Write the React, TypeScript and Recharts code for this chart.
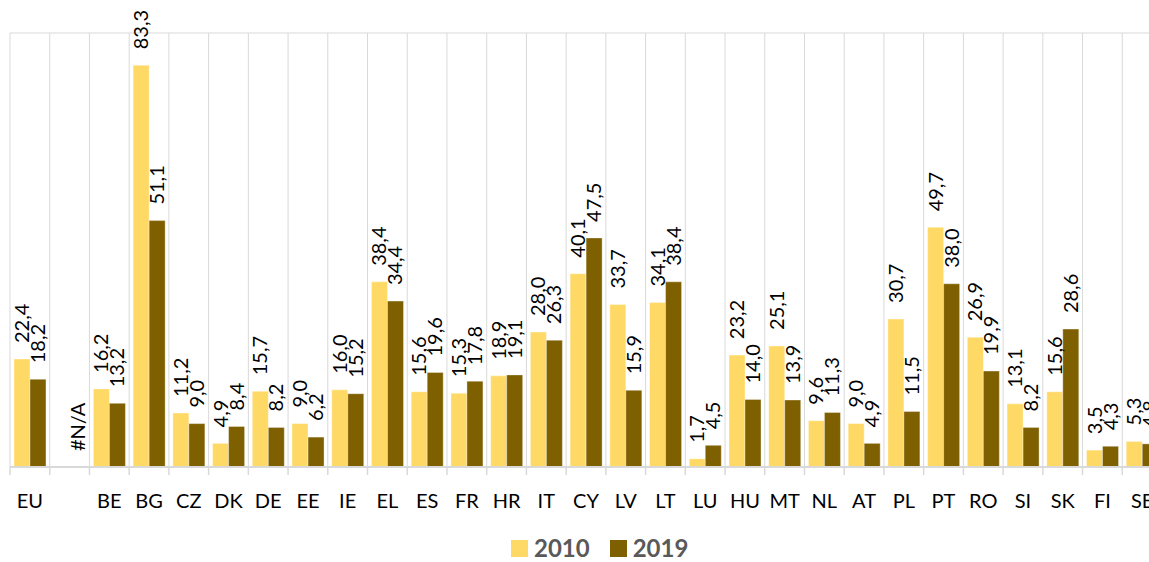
import { BarChart, Bar, XAxis, YAxis, CartesianGrid, Legend, LabelList } from 'recharts'

const CATEGORIES = ['EU', '', 'BE', 'BG', 'CZ', 'DK', 'DE', 'EE', 'IE', 'EL', 'ES', 'FR', 'HR', 'IT', 'CY', 'LV', 'LT', 'LU', 'HU', 'MT', 'NL', 'AT', 'PL', 'PT', 'RO', 'SI', 'SK', 'FI', 'SE']
const VALUES_2010 = [22.4, null, 16.2, 83.3, 11.2, 4.9, 15.7, 9.0, 16.0, 38.4, 15.6, 15.3, 18.9, 28.0, 40.1, 33.7, 34.1, 1.7, 23.2, 25.1, 9.6, 9.0, 30.7, 49.7, 26.9, 13.1, 15.6, 3.5, 5.3]
const VALUES_2019 = [18.2, null, 13.2, 51.1, 9.0, 8.4, 8.2, 6.2, 15.2, 34.4, 19.6, 17.8, 19.1, 26.3, 47.5, 15.9, 38.4, 4.5, 14.0, 13.9, 11.3, 4.9, 11.5, 38.0, 19.9, 8.2, 28.6, 4.3, 4.8]
const Y_DOMAIN = [0, 90]
const MISSING = '#N/A'

const COLOR_2010 = '#FFD966'
const COLOR_2019 = '#7F6000'
const FONT = 'Lato, "Open Sans", sans-serif'

const W = 1200
const H = 562
const MARGIN = { top: 33, right: 38, bottom: 0, left: 10 }
const PLOT_W = W - MARGIN.left - MARGIN.right
const HALF_BAND = PLOT_W / CATEGORIES.length / 2

const fmt = (v: number | null) => (v == null ? undefined : v.toFixed(1).replace('.', ','))

const data = CATEGORIES.map((cat, i) => ({
  cat,
  v2010: VALUES_2010[i],
  v2019: VALUES_2019[i] ?? 0,
  l2010: fmt(VALUES_2010[i]),
  l2019: VALUES_2019[i] == null ? MISSING : fmt(VALUES_2019[i]),
}))

function BarLabel(props: any) {
  const { x, y, width, value } = props
  if (value == null || value === '') return null
  const tx = Number(x) + Number(width) / 2 + 7
  const ty = Number(y) - 16
  return (
    <text x={tx} y={ty} transform={`rotate(-90 ${tx} ${ty})`} fontSize={20} fontFamily={FONT} fill="#000">
      {value}
    </text>
  )
}

function CatTick(props: any) {
  const { x, y, payload } = props
  return (
    <g>
      <line x1={x - HALF_BAND} x2={x - HALF_BAND} y1={y} y2={y + 8} stroke="#d9d9d9" strokeWidth={1.5} />
      <text x={x} y={y + 41} textAnchor="middle" fontSize={20} fontFamily={FONT} fill="#000">
        {payload.value}
      </text>
    </g>
  )
}

function LegendContent(props: any) {
  const items = props.payload || []
  return (
    <div style={{ display: 'flex', alignItems: 'center', height: 22, gap: 20, marginTop: -3 }}>
      {items.map((it: any) => (
        <div key={it.value} style={{ display: 'flex', alignItems: 'center', gap: 6 }}>
          <span style={{ width: 17, height: 17, background: it.color, display: 'inline-block' }} />
          <span style={{ fontFamily: FONT, fontWeight: 700, fontSize: 24, color: '#595959', lineHeight: '24px' }}>{it.value}</span>
        </div>
      ))}
    </div>
  )
}

export default function App() {
  return (
    <div style={{ position: 'absolute', top: 0, left: 0, width: 1149, height: 562, overflow: 'hidden', background: '#fff' }}>
      <BarChart width={W} height={H} data={data} margin={MARGIN} barCategoryGap="10%" barGap={0}>
        <CartesianGrid
          stroke="#d9d9d9"
          verticalCoordinatesGenerator={({ offset }: any) =>
            [...CATEGORIES.map((_, i) => offset.left + (i * offset.width) / CATEGORIES.length), offset.left + offset.width]
          }
          horizontalCoordinatesGenerator={({ offset }: any) => [offset.top]}
        />
        <XAxis
          dataKey="cat"
          height={73}
          interval={0}
          tickSize={0}
          tickMargin={0}
          axisLine={{ stroke: '#d9d9d9', strokeWidth: 2 }}
          tick={<CatTick />}
        />
        <YAxis hide domain={Y_DOMAIN} />
        <Legend verticalAlign="bottom" content={<LegendContent />} wrapperStyle={{ left: 511, width: 240, height: 22 }} />
        <Bar dataKey="v2010" name="2010" fill={COLOR_2010} stroke="#fff" strokeOpacity={0.35} isAnimationActive={false}>
          <LabelList dataKey="l2010" content={<BarLabel />} />
        </Bar>
        <Bar dataKey="v2019" name="2019" fill={COLOR_2019} stroke="#fff" strokeOpacity={0.35} minPointSize={0.01} isAnimationActive={false}>
          <LabelList dataKey="l2019" content={<BarLabel />} />
        </Bar>
      </BarChart>
    </div>
  )
}
